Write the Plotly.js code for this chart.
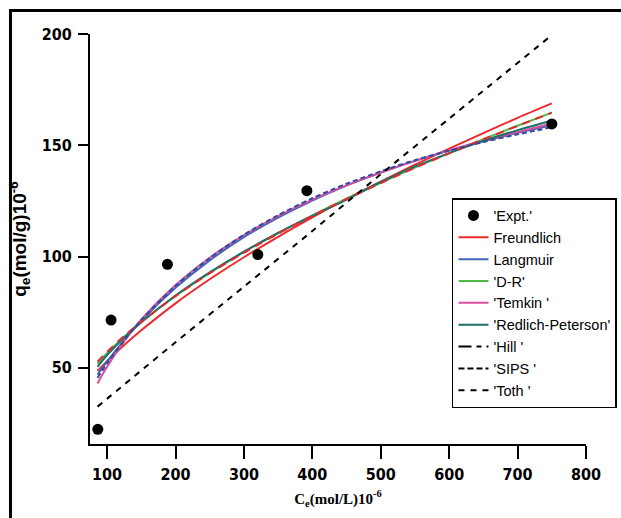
<!DOCTYPE html>
<html>
<head>
<meta charset="utf-8">
<script src="https://cdn.plot.ly/plotly-3.0.1.min.js"></script>
<style>html,body{margin:0;padding:0;background:#fff;}#chart{width:621px;height:518px;}</style>
</head>
<body>
<div id="chart"></div>
<script>
// Experimental points
const exptCe = [86.4, 105.8, 188.2, 320.3, 392.0, 750.1];
const exptQe = [22.4, 71.5, 96.5, 100.9, 129.6, 159.6];

// Fitted curves
const fitCe = [86, 100, 125, 150, 200, 250, 300, 350, 400, 450, 500, 550, 600, 650, 700, 750];
const freundlich = [48.6, 53.0, 60.3, 66.9, 79.0, 89.8, 99.7, 108.9, 117.6, 125.9, 133.7, 141.3, 148.5, 155.5, 162.3, 168.8];
const langmuir   = [47.0, 52.9, 62.5, 71.2, 86.0, 98.3, 108.7, 117.5, 125.2, 131.9, 137.7, 143.0, 147.6, 151.8, 155.6, 159.0];
const dr         = [51.8, 56.6, 64.0, 70.6, 82.3, 92.7, 102.0, 110.6, 118.5, 126.0, 133.1, 140.0, 146.5, 152.8, 158.8, 164.7];
const temkin     = [43.0, 50.5, 62.0, 71.8, 87.2, 99.5, 109.6, 118.2, 125.6, 132.0, 137.8, 143.0, 147.7, 152.0, 156.0, 159.8];
const redlich    = [50.5, 55.7, 63.6, 70.5, 82.5, 92.9, 102.2, 110.6, 118.3, 125.6, 133.5, 140.5, 146.5, 152.0, 156.8, 161.0];
const hill       = [52.8, 57.2, 64.3, 70.7, 82.2, 92.5, 101.7, 110.3, 118.3, 125.9, 133.0, 139.9, 146.4, 152.7, 158.7, 164.6];
const sips       = [45.5, 52.0, 62.3, 71.5, 86.8, 99.3, 109.8, 118.6, 126.2, 132.7, 138.3, 143.3, 147.6, 151.5, 154.9, 158.1];
const tothCe     = [86, 200, 300, 400, 500, 600, 750];
const toth       = [32.6, 61.5, 86.5, 111.5, 137.0, 162.0, 199.5];

const xTicks = [100, 200, 300, 400, 500, 600, 700, 800];
const yTicks = [50, 100, 150, 200];

const names = {
  expt: "'Expt.'", fr: "Freundlich", la: "Langmuir", dr: "'D-R'", te: "'Temkin '",
  rp: "'Redlich-Peterson'", hi: "'Hill '", si: "'SIPS '", to: "'Toth '"
};

function curve(x, y, name, color, dash, rank, show) {
  return {x: x, y: y, name: name, type: 'scatter', mode: 'lines',
    line: {color: color, width: 2, dash: dash || 'solid', shape: 'spline', smoothing: 0.8},
    legendrank: rank, showlegend: show !== false, hoverinfo: 'skip'};
}

const traces = [
  curve(fitCe, freundlich, names.fr, '#ee2a2e', 'solid', 2),
  curve(fitCe, langmuir, names.la, '#4466b8', 'solid', 3),
  curve(fitCe, dr, names.dr, '#4cbb47', 'solid', 4),
  curve(fitCe, temkin, names.te, '#d8509e', 'solid', 5),
  curve(fitCe, redlich, names.rp, '#1e6f6a', 'solid', 6),
  curve(fitCe, hill, names.hi, '#e8282c', '8px,6px', 7, false),
  curve(fitCe, sips, names.si, '#3548a0', '5px,3px', 8, false),
  // legend entries for Hill / SIPS (drawn black in the legend)
  {x: [null], y: [null], name: names.hi, type: 'scatter', mode: 'lines', line: {color: '#000', width: 2, dash: '13px,5px,5px,5px'}, legendrank: 7},
  {x: [null], y: [null], name: names.si, type: 'scatter', mode: 'lines', line: {color: '#000', width: 2, dash: '6px,3px'}, legendrank: 8},
  curve(tothCe, toth, names.to, '#000000', '6px,6px', 9),
  {x: exptCe, y: exptQe, name: names.expt, type: 'scatter', mode: 'markers',
   marker: {color: '#000', size: 11, symbol: 'circle'}, legendrank: 1, hoverinfo: 'skip'}
];

const tickFont = {family: 'DejaVu Sans Condensed, Liberation Sans Narrow, Arial Narrow, sans-serif', size: 16, color: '#000', weight: 'bold'};

const layout = {
  width: 621, height: 518,
  margin: {l: 90, r: 35, t: 34, b: 74, pad: 0, autoexpand: false},
  paper_bgcolor: '#fff', plot_bgcolor: '#fff',
  showlegend: true,
  xaxis: {
    range: [75, 800], tickvals: xTicks, ticks: 'outside', ticklen: 13, tickwidth: 2, tickcolor: '#000',
    showline: true, linewidth: 2, linecolor: '#000', showgrid: false, zeroline: false,
    tickfont: tickFont, automargin: false, ticklabelstandoff: 2,
    title: {text: '<b>C<sub>e</sub>(mol/L)10<sup>-6</sup></b>', font: {family: 'Liberation Serif, Times New Roman, serif', size: 15, color: '#000'}, standoff: 10}
  },
  yaxis: {
    range: [15.8, 200], tickvals: yTicks, ticks: 'outside', ticklen: 10, tickwidth: 2, tickcolor: '#000',
    showline: true, linewidth: 2, linecolor: '#000', showgrid: false, zeroline: false,
    tickfont: tickFont, automargin: false, ticklabelstandoff: 3,
    title: {text: '<b>q<sub>e</sub>(mol/g)10<sup>-6</sup></b>', font: {family: 'Liberation Sans, Arial, sans-serif', size: 19, color: '#000'}, standoff: 10}
  },
  legend: {
    x: 0.7298, y: 0.6, xanchor: 'left', yanchor: 'top', bgcolor: '#fff',
    bordercolor: '#000', borderwidth: 1.5, itemwidth: 30, traceorder: 'normal',
    font: {family: 'Liberation Sans, Arial, sans-serif', size: 14.5, color: '#000'}
  },
  shapes: [
    {type: 'rect', xref: 'paper', yref: 'paper', x0: -0.1603, x1: 1.2, y0: -0.4, y1: 1.0573,
     line: {color: '#000', width: 3}, fillcolor: 'rgba(0,0,0,0)', layer: 'below'}
  ]
};

Plotly.newPlot('chart', traces, layout, {staticPlot: true, displayModeBar: false});
</script>
</body>
</html>
